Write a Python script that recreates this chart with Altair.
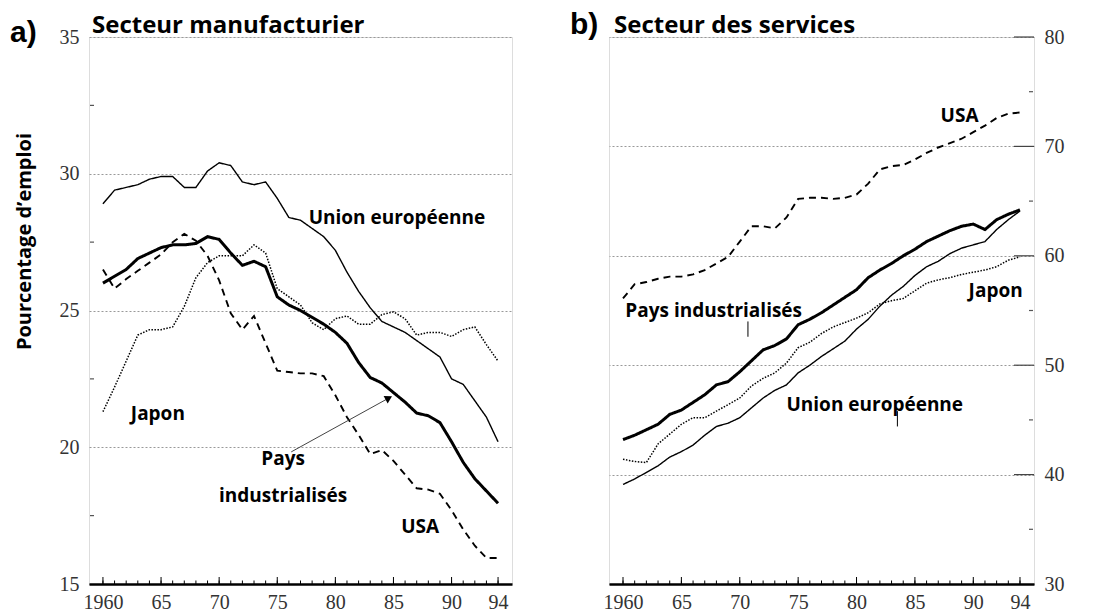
import altair as alt
import pandas as pd

years = list(range(1960, 1995))
series = ["Union européenne", "Pays industrialisés", "USA", "Japon"]

manu_ue = [28.9, 29.4, 29.5, 29.6, 29.8, 29.9, 29.9, 29.5, 29.5, 30.1,
           30.4, 30.3, 29.7, 29.6, 29.7, 29.1, 28.4, 28.3, 28.0, 27.7,
           27.2, 26.4, 25.7, 25.1, 24.6, 24.4, 24.2, 23.9, 23.6, 23.3,
           22.5, 22.3, 21.7, 21.1, 20.2]
manu_pi = [26.0, 26.25, 26.5, 26.9, 27.1, 27.3, 27.4, 27.4, 27.45, 27.7,
           27.6, 27.1, 26.65, 26.8, 26.6, 25.5, 25.2, 25.0, 24.75, 24.5,
           24.2, 23.8, 23.1, 22.55, 22.35, 22.0, 21.65, 21.25, 21.15, 20.9,
           20.2, 19.45, 18.85, 18.4, 17.95]
manu_usa = [26.5, 25.8, 26.15, 26.45, 26.75, 27.05, 27.5, 27.8, 27.55, 27.0,
            26.1, 24.9, 24.3, 24.8, 23.8, 22.8, 22.75, 22.7, 22.7, 22.6,
            21.9, 21.1, 20.45, 19.75, 19.9, 19.5, 19.0, 18.5, 18.45, 18.3,
            17.7, 17.0, 16.4, 15.95, 15.95]
manu_jp = [21.3, 22.2, 23.15, 24.1, 24.3, 24.3, 24.4, 25.15, 26.2, 26.75,
           27.0, 27.0, 27.0, 27.4, 27.1, 25.8, 25.5, 25.2, 24.55, 24.3,
           24.7, 24.8, 24.5, 24.5, 24.85, 24.95, 24.7, 24.1, 24.2, 24.2,
           24.05, 24.3, 24.4, 23.75, 23.15]

serv_ue = [39.1, 39.6, 40.2, 40.8, 41.6, 42.1, 42.7, 43.6, 44.4, 44.7,
           45.2, 46.1, 47.0, 47.7, 48.2, 49.3, 50.0, 50.8, 51.5, 52.2,
           53.3, 54.2, 55.4, 56.4, 57.2, 58.2, 59.0, 59.5, 60.2, 60.7,
           61.0, 61.3, 62.4, 63.3, 64.1]
serv_pi = [43.2, 43.6, 44.1, 44.6, 45.5, 45.9, 46.6, 47.3, 48.2, 48.5,
           49.4, 50.4, 51.4, 51.8, 52.4, 53.7, 54.2, 54.8, 55.5, 56.2,
           56.9, 58.0, 58.7, 59.3, 60.0, 60.6, 61.3, 61.8, 62.3, 62.7,
           62.9, 62.4, 63.3, 63.8, 64.2]
serv_usa = [56.1, 57.4, 57.6, 57.9, 58.1, 58.1, 58.3, 58.7, 59.3, 59.9,
            61.3, 62.7, 62.7, 62.5, 63.5, 65.2, 65.3, 65.3, 65.2, 65.3,
            65.6, 66.6, 67.9, 68.2, 68.3, 68.8, 69.4, 69.9, 70.3, 70.7,
            71.3, 71.9, 72.6, 73.0, 73.1]
serv_jp = [41.4, 41.2, 41.1, 42.8, 43.7, 44.6, 45.2, 45.2, 45.8, 46.4,
           47.0, 48.1, 48.8, 49.3, 50.2, 51.6, 52.1, 52.9, 53.5, 53.9,
           54.3, 54.8, 55.6, 55.9, 56.1, 56.8, 57.5, 57.8, 58.0, 58.3,
           58.5, 58.7, 59.0, 59.6, 59.9]

x_labels = [1960, 1965, 1970, 1975, 1980, 1985, 1990, 1994]
x_major_ticks = [1960, 1965, 1970, 1975, 1980, 1985, 1990, 1994]
manu_y_labels = [15, 20, 25, 30, 35]
manu_y_minor = [17.5, 22.5, 27.5, 32.5]
serv_y_labels = [30, 40, 50, 60, 70, 80]
serv_y_minor = [35, 45, 55, 65, 75]

# annotations (year, value, text)
manu_ann_left = {"annee": [1977.7, 1962.4], "valeur": [28.4, 21.2],
                 "texte": ["Union européenne", "Japon"]}
manu_ann_center = {"annee": [1975.5, 1975.5, 1987.3], "valeur": [19.56, 18.2, 17.1],
                   "texte": ["Pays", "industrialisés", "USA"]}
manu_arrow = {"annee": [1976.2], "valeur": [19.83], "annee2": [1984.6], "valeur2": [21.8]}

serv_ann_left = {"annee": [1987.2, 1989.6, 1960.2, 1974.0], "valeur": [72.8, 56.8, 55.0, 46.4],
                 "texte": ["USA", "Japon", "Pays industrialisés", "Union européenne"]}
serv_leaders = {"annee": [1970.7, 1983.5], "valeur": [54.0, 45.8], "valeur2": [52.6, 44.4]}

SANS = "Open Sans"
LETTER = "Liberation Sans"
SERIF = "Liberation Serif"
H = 547
W1, W2 = 423, 425

styles = {
    "Union européenne": dict(strokeWidth=1.4, strokeDash=[1, 0]),
    "Pays industrialisés": dict(strokeWidth=3.0, strokeDash=[1, 0]),
    "USA": dict(strokeWidth=1.9, strokeDash=[7, 5]),
    "Japon": dict(strokeWidth=1.5, strokeDash=[1.5, 1.5]),
}


def long_df(vals_list):
    rows = []
    for name, vals in zip(series, vals_list):
        for yv, v in zip(years, vals):
            rows.append({"annee": yv, "valeur": v, "serie": name})
    return pd.DataFrame(rows)


def panel(df, ydom, ylabels, yminor, orient, width, ytitle):
    xs = alt.Scale(domain=[1958.8, 1995.2], nice=False, zero=False)
    ys = alt.Scale(domain=ydom, nice=False, zero=False)
    xaxis = alt.Axis(values=x_labels, ticks=False, grid=False, domainColor="black",
                     domainWidth=2.6, labelFont=SERIF, labelFontSize=20, labelColor="#333",
                     labelPadding=8, labelFlush=False, title=None,
                     labelExpr="datum.value == 1960 ? '1960' : substring(toString(datum.value), 2, 4)")
    yaxis_kw = dict(values=ylabels, orient=orient, grid=True, gridColor="#999999",
                    gridDash=[2, 2], gridWidth=1, ticks=False, domain=False,
                    labelFont=SERIF, labelFontSize=20, labelColor="#333", labelPadding=10)
    if ytitle:
        yaxis_kw.update(title=ytitle, titleFont=SANS, titleFontSize=20, titleFontWeight="bold",
                        titleColor="black", titleX=-65, titleY=204, titleBaseline="middle",
                        titleAngle=270)
    else:
        yaxis_kw.update(title=None)
    X = alt.X("annee:Q", scale=xs, axis=xaxis)
    Y = alt.Y("valeur:Q", scale=ys, axis=alt.Axis(**yaxis_kw))

    layers = []
    for name in series:
        st = styles[name]
        layers.append(
            alt.Chart(df).transform_filter(alt.datum.serie == name)
            .mark_line(color="black", strokeWidth=st["strokeWidth"], strokeDash=st["strokeDash"])
            .encode(x=X, y=Y)
        )
    # year ticks on the base line
    tick_df = pd.DataFrame({"annee": years})
    layers.append(alt.Chart(tick_df).mark_rule(color="black", strokeWidth=1)
                  .encode(x=X, y=alt.value(H), y2=alt.value(H - 3.5)))
    maj_df = pd.DataFrame({"annee": x_major_ticks})
    layers.append(alt.Chart(maj_df).mark_rule(color="black", strokeWidth=1)
                  .encode(x=X, y=alt.value(H), y2=alt.value(H - 7)))
    # minor y ticks
    mdf = pd.DataFrame({"valeur": yminor})
    if orient == "left":
        layers.append(alt.Chart(mdf).mark_rule(color="#555", strokeWidth=1.2)
                      .encode(y=Y, x=alt.value(1), x2=alt.value(5)))
    else:
        layers.append(alt.Chart(mdf).mark_rule(color="#555", strokeWidth=1.2)
                      .encode(y=Y, x=alt.value(width - 5), x2=alt.value(width - 1)))
        jdf = pd.DataFrame({"valeur": ylabels[1:]})
        layers.append(alt.Chart(jdf).mark_rule(color="#444", strokeWidth=1.2)
                      .encode(y=Y, x=alt.value(width - 20), x2=alt.value(width)))
    return layers, X, Y


def text_layer(d, X, Y, align):
    return (alt.Chart(pd.DataFrame(d))
            .mark_text(font=SANS, fontWeight="bold", fontSize=19, align=align,
                       baseline="middle", color="black")
            .encode(x=X, y=Y, text="texte:N"))


def fixed_text(t, x, y, size, font=SANS):
    return (alt.Chart(pd.DataFrame({"t": [t]}))
            .mark_text(font=font, fontWeight="bold", fontSize=size, align="left",
                       baseline="alphabetic", color="black")
            .encode(x=alt.value(x), y=alt.value(y), text="t:N"))


# ---- panel a
dfa = long_df([manu_ue, manu_pi, manu_usa, manu_jp])
la, Xa, Ya = panel(dfa, [15, 35], manu_y_labels, manu_y_minor, "left", W1, "Pourcentage d’emploi")
la.append(text_layer(manu_ann_left, Xa, Ya, "left"))
la.append(text_layer(manu_ann_center, Xa, Ya, "center"))
adf = pd.DataFrame(manu_arrow)
la.append(alt.Chart(adf).mark_rule(color="#444", strokeWidth=1)
          .encode(x=Xa, y=Ya, x2="annee2:Q", y2="valeur2:Q"))
la.append(alt.Chart(adf).mark_point(shape="triangle-up", filled=True, color="black",
                                    size=70, angle=61, opacity=1)
          .encode(x=alt.X("annee2:Q", scale=alt.Scale(domain=[1958.8, 1995.2], nice=False, zero=False)),
                  y=alt.Y("valeur2:Q", scale=alt.Scale(domain=[15, 35], nice=False, zero=False))))
la.append(fixed_text("a)", -79, 5, 30, LETTER))
la.append(fixed_text("Secteur manufacturier", 3, -4, 24))
chart_a = alt.layer(*la).properties(width=W1, height=H)

# ---- panel b
dfb = long_df([serv_ue, serv_pi, serv_usa, serv_jp])
lb, Xb, Yb = panel(dfb, [30, 80], serv_y_labels, serv_y_minor, "right", W2, None)
lb.append(text_layer(serv_ann_left, Xb, Yb, "left"))
ldf = pd.DataFrame(serv_leaders)
lb.append(alt.Chart(ldf).mark_rule(color="black", strokeWidth=1)
          .encode(x=Xb, y=Yb, y2="valeur2:Q"))
lb.append(fixed_text("b)", -39, -3, 30, LETTER))
lb.append(fixed_text("Secteur des services", 5, -4, 24))
chart_b = alt.layer(*lb).properties(width=W2, height=H)

chart = (alt.hconcat(chart_a, chart_b, spacing=56)
         .properties(padding={"left": 1, "top": 1, "right": 5, "bottom": 0})
         .configure_view(stroke=None)
         .configure(background="white"))

chart.save("out.html", embed_options={"renderer": "svg", "actions": False})
